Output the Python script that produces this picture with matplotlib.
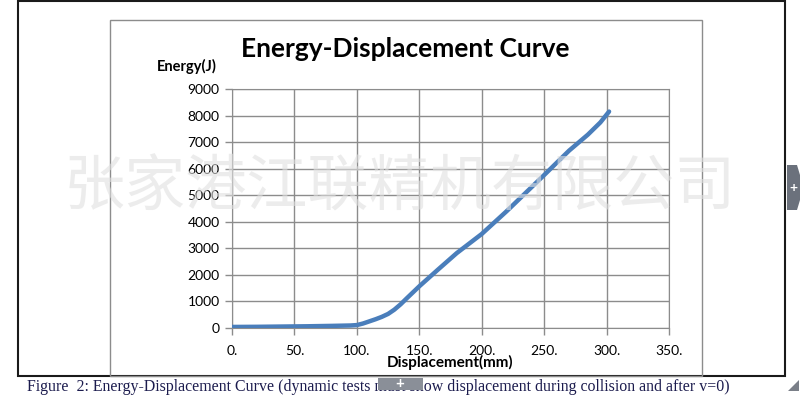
import matplotlib.pyplot as plt
from matplotlib.patches import Rectangle, Polygon

W, H = 800, 404

# curve
disp = [0, 20, 40, 60, 80, 95, 100, 105, 110, 115, 120, 125, 130, 135, 140,
        150, 165, 180, 200, 220, 250, 270, 285, 295, 302]
energy = [40, 45, 55, 65, 80, 95, 110, 170, 250, 330, 420, 530, 690, 890, 1120,
          1570, 2200, 2820, 3540, 4400, 5760, 6680, 7280, 7740, 8150]

x_ticks = [0, 50, 100, 150, 200, 250, 300, 350]
x_labels = ['0.', '50.', '100.', '150.', '200.', '250.', '300.', '350.']
y_ticks = [0, 1000, 2000, 3000, 4000, 5000, 6000, 7000, 8000, 9000]

watermark = '张家港江联精机有限公司'
caption = 'Figure  2: Energy-Displacement Curve (dynamic tests must show displacement during collision and after v=0)'


def fx(px):
    return px / W


def fy(py):
    return 1 - py / H


plt.rcParams['font.family'] = ['Lato', 'DejaVu Sans']

fig = plt.figure(figsize=(8, 4.04), dpi=100)
fig.patch.set_facecolor('white')

# outer frame and chart area frame
fig.add_artist(Rectangle((fx(18), fy(376)), fx(785) - fx(18), fy(1) - fy(376),
                         transform=fig.transFigure, fill=False, ec='#1a1a1a', lw=1.5))
fig.add_artist(Rectangle((fx(110), fy(376)), fx(702) - fx(110), fy(20) - fy(376),
                         transform=fig.transFigure, fill=False, ec='#8c8c8c', lw=1))

ax = fig.add_axes([fx(232), fy(328), fx(669) - fx(232), fy(89) - fy(328)])
ax.plot(disp, energy, color='#4a7ebb', lw=3.2, solid_capstyle='round', zorder=3)
ax.set_xlim(0, 350)
ax.set_ylim(0, 9000)
ax.set_xticks(x_ticks)
ax.set_xticklabels(x_labels)
ax.set_yticks(y_ticks)
ax.grid(True, color='#8c8c8c', lw=1)
ax.set_axisbelow(True)
for s in ax.spines.values():
    s.set_color('#8c8c8c')
ax.tick_params(direction='out', length=5, width=1, color='#8c8c8c',
               labelsize=10, labelcolor='black')
ax.tick_params(axis='x', pad=7)
ax.tick_params(axis='y', pad=4)

fig.text(fx(405), fy(49), 'Energy-Displacement Curve', ha='center', va='center',
         fontsize=19, fontweight='bold')
fig.text(fx(187), fy(66), 'Energy(J)', ha='center', va='center',
         fontsize=10.5, fontweight='bold')
fig.text(fx(450), fy(362), 'Displacement(mm)', ha='center', va='center',
         fontsize=11, fontweight='bold')

# watermark over the chart
fig.text(fx(400), fy(188), watermark, ha='center', va='center', fontsize=44,
         family=['Noto Sans CJK SC', 'DejaVu Sans'], fontweight='light',
         color='#e0e0e0', alpha=0.6, zorder=10)

fig.text(fx(27), fy(387), caption, ha='left', va='center', fontsize=11.4,
         family=['Liberation Serif', 'DejaVu Serif'], color='#1c1c4e')

# little ui widgets
fig.add_artist(Rectangle((fx(378), fy(390)), fx(423) - fx(378), fy(378) - fy(390),
                         transform=fig.transFigure, fc='#8a8f98', ec='none', zorder=11))
fig.text(fx(400), fy(384), '+', ha='center', va='center', color='white',
         fontsize=11, fontweight='bold', zorder=12)
fig.add_artist(Polygon([(fx(787), fy(165)), (fx(797), fy(165)), (fx(800), fy(175)),
                        (fx(800), fy(200)), (fx(797), fy(210)), (fx(787), fy(210))],
                       closed=True, transform=fig.transFigure, fc='#6b717c', ec='none'))
fig.text(fx(793), fy(188), '+', ha='center', va='center', color='white',
         fontsize=10, fontweight='bold')
fig.add_artist(Polygon([(fx(788), fy(391)), (fx(799), fy(380)), (fx(799), fy(391))],
                       closed=True, transform=fig.transFigure, fc='#7a7f88', ec='none'))

fig.savefig('out.png', dpi=100, facecolor='white')
